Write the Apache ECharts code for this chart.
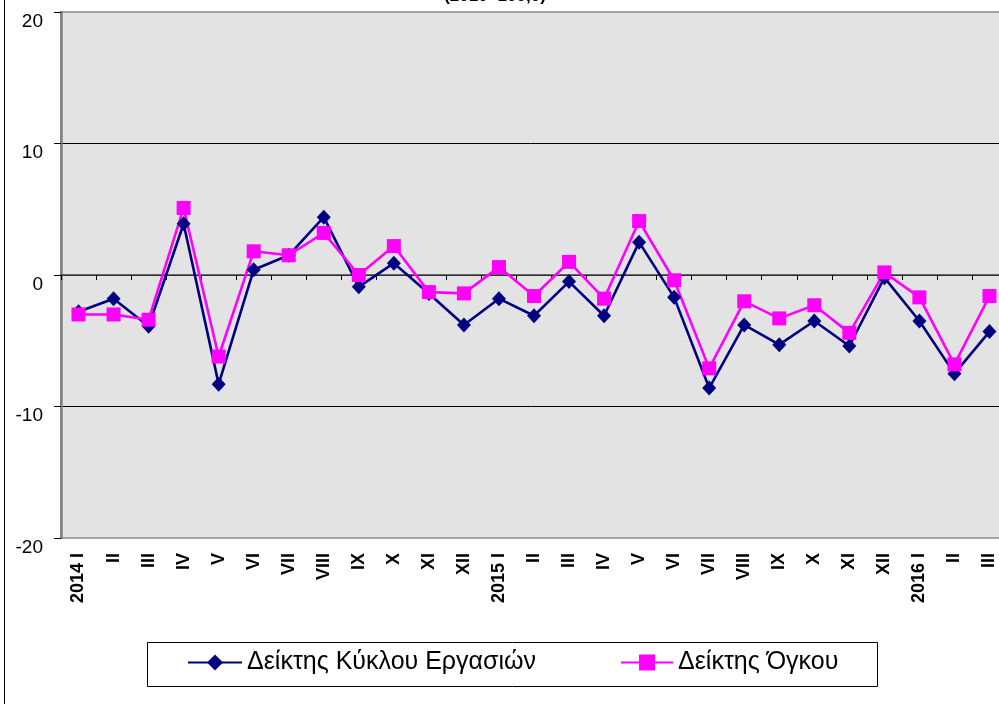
<!DOCTYPE html>
<html>
<head>
<meta charset="utf-8">
<script src="https://cdn.jsdelivr.net/npm/echarts@6/dist/echarts.min.js"></script>
<style>
html, body { margin: 0; padding: 0; background: #fff; }
#chart { width: 999px; height: 704px; }
</style>
</head>
<body>
<div id="chart"></div>
<script>
// κατηγορίες (μήνες)
var months = ['2014 I','II','III','IV','V','VI','VII','VIII','IX','X','XI','XII',
	'2015 I','II','III','IV','V','VI','VII','VIII','IX','X','XI','XII',
	'2016 I','II','III'];

// Δείκτης Κύκλου Εργασιών
var turnover = [-2.8,-1.8,-3.9,3.9,-8.3,0.4,1.5,4.4,-0.9,0.9,-1.4,-3.8,
	-1.8,-3.1,-0.5,-3.1,2.5,-1.7,-8.6,-3.8,-5.3,-3.5,-5.4,-0.2,
	-3.5,-7.5,-4.3];

// Δείκτης Όγκου
var volume = [-3.0,-3.0,-3.4,5.1,-6.2,1.8,1.5,3.2,0.0,2.2,-1.3,-1.4,
	0.6,-1.6,1.0,-1.8,4.1,-0.4,-7.1,-2.0,-3.3,-2.3,-4.4,0.2,
	-1.7,-6.8,-1.6];

var yTicks = { min: -20, max: 20, interval: 10 };

var font = '"Liberation Sans", Arial, sans-serif';
var chart = echarts.init(document.getElementById('chart'));

chart.setOption({
	backgroundColor: '#fff',
	animation: false,
	textStyle: { fontFamily: font },
	graphic: [
		{ type: 'line', shape: { x1: 4.5, y1: 0, x2: 4.5, y2: 704 }, style: { stroke: '#000', lineWidth: 1 } },
		{ type: 'rect', shape: { x: 147.5, y: 642.5, width: 730, height: 44 }, style: { fill: '#fff', stroke: '#000', lineWidth: 1 }, z: 0 },
		{ type: 'text', x: 495, y: -12, style: { text: '(2010=100,0)', font: 'bold 17px ' + font, fill: '#000', textAlign: 'center' } }
	],
	grid: {
		left: 61, top: 12, width: 946, height: 526,
		outerBoundsMode: 'none',
		show: true, backgroundColor: '#e3e3e3', borderColor: '#8a8a8a', borderWidth: 1.5
	},
	legend: [
		{
			data: ['Δείκτης Κύκλου Εργασιών'],
			left: 187, top: 650, padding: 0,
			itemWidth: 54, itemHeight: 20,
			textStyle: { fontSize: 25, color: '#000', fontFamily: font }
		},
		{
			data: ['Δείκτης Όγκου'],
			left: 620, top: 650, padding: 0,
			itemWidth: 52, itemHeight: 20,
			textStyle: { fontSize: 25, color: '#000', fontFamily: font }
		}
	],
	xAxis: {
		type: 'category',
		data: months,
		boundaryGap: true,
		axisLine: { lineStyle: { color: '#404040', width: 1.5 } },
		axisTick: { show: true, length: 5, lineStyle: { color: '#000' } },
		axisLabel: {
			interval: 0, rotate: 90, margin: 15,
			fontSize: 18, fontWeight: 'bold', color: '#000', fontFamily: font
		}
	},
	yAxis: {
		type: 'value',
		min: yTicks.min, max: yTicks.max, interval: yTicks.interval,
		axisLine: { show: true, lineStyle: { color: '#7f7f7f', width: 2.5 } },
		axisTick: { show: true, length: 7, lineStyle: { color: '#000' } },
		axisLabel: { fontSize: 19, color: '#000', margin: 18, verticalAlign: 'top', fontFamily: font },
		splitLine: { show: true, showMinLine: false, showMaxLine: false, lineStyle: { color: '#000', width: 1 } }
	},
	series: [
		{
			name: 'Δείκτης Κύκλου Εργασιών',
			type: 'line',
			data: turnover,
			symbol: 'diamond',
			symbolSize: [14, 15],
			lineStyle: { color: '#000080', width: 2.6 },
			itemStyle: { color: '#000080' }
		},
		{
			name: 'Δείκτης Όγκου',
			type: 'line',
			data: volume,
			symbol: 'rect',
			symbolSize: 14,
			lineStyle: { color: '#ff00ff', width: 2.6 },
			itemStyle: { color: '#ff00ff' }
		}
	]
});
</script>
</body>
</html>
